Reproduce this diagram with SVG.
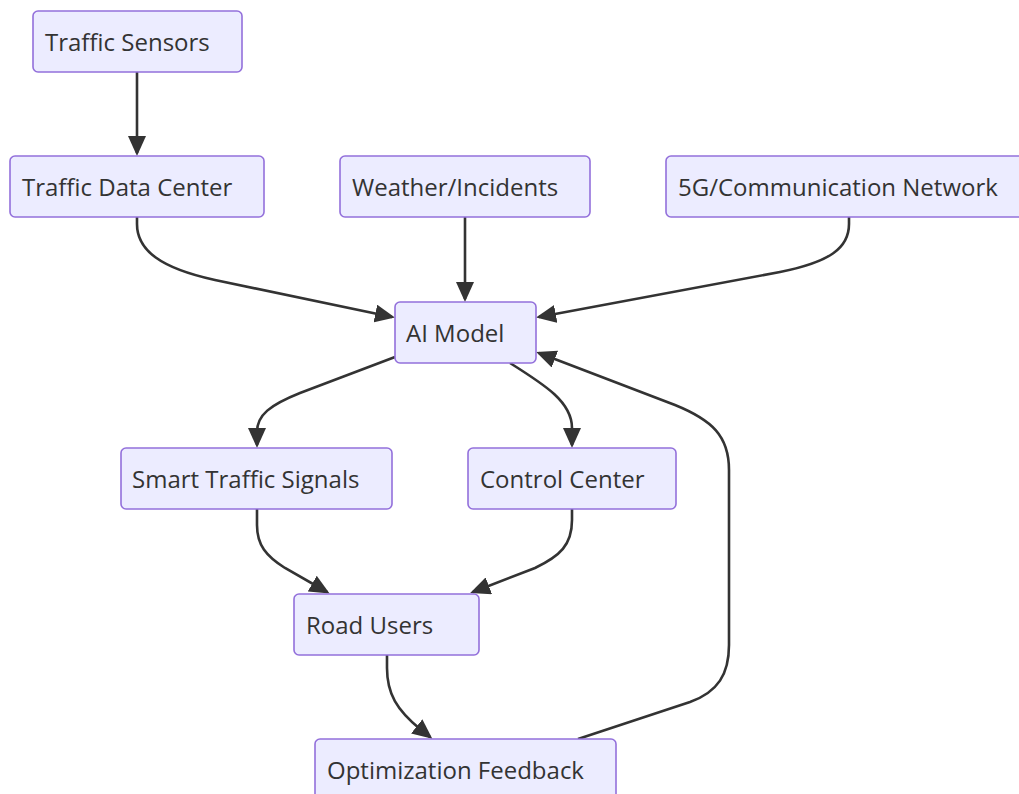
<svg xmlns="http://www.w3.org/2000/svg" width="1019" height="794" viewBox="0 0 1019 794">
  <style>
    .node rect { fill: #ECECFF; stroke: #9370DB; stroke-width: 1.6; }
    .node text { font-family: "Open Sans", "Noto Sans", "Liberation Sans", sans-serif; font-size: 24px; fill: #333333; }
    .edge { fill: none; stroke: #333333; stroke-width: 2.6; marker-end: url(#arrow); }
  </style>
  <defs>
    <marker id="arrow" viewBox="0 0 20 18" refX="17" refY="9" markerWidth="20" markerHeight="18" markerUnits="userSpaceOnUse" orient="auto">
      <path d="M0,0 L20,9 L0,18 z" fill="#333333"/>
    </marker>
  </defs>

  <g id="connectors">
    <!-- sensors to data center -->
    <path class="edge" d="M137,72 L137,153"/>
    <!-- data center to AI model -->
    <path class="edge" d="M137,217 L137,224 C137,250 160,268 215,280 L392,317"/>
    <!-- weather to AI model -->
    <path class="edge" d="M465,217 L465,299"/>
    <!-- 5G network to AI model -->
    <path class="edge" d="M849,217 L849,224 C849,248 830,262 780,272 L539,317"/>
    <!-- AI model to smart signals -->
    <path class="edge" d="M395,357 L300,393 C270,405 257,415 257,432 L257,445"/>
    <!-- AI model to control center -->
    <path class="edge" d="M510,363 C545,385 572,402 572,428 L572,445"/>
    <!-- smart signals to road users -->
    <path class="edge" d="M257,509 L257,525 C257,545 266,556 285,568 L327,592"/>
    <!-- control center to road users -->
    <path class="edge" d="M572,509 L572,520 C572,545 560,556 535,568 L473,592"/>
    <!-- road users to feedback -->
    <path class="edge" d="M387,655 L387,668 C387,694 397,710 420,729 L430,737"/>
    <!-- feedback back to AI model -->
    <path class="edge" d="M578,739 L690,702 C718,692 729,674 729,645 L729,470 C729,436 712,420 675,405 L539,353"/>
  </g>

  <g id="traffic-sensors" class="node">
    <rect x="33" y="11" width="209" height="61" rx="5"/>
    <text x="45" y="51">Traffic Sensors</text>
  </g>
  <g id="traffic-data-center" class="node">
    <rect x="10" y="156" width="254" height="61" rx="5"/>
    <text x="22" y="196">Traffic Data Center</text>
  </g>
  <g id="weather-incidents" class="node">
    <rect x="340" y="156" width="250" height="61" rx="5"/>
    <text x="352" y="196">Weather/Incidents</text>
  </g>
  <g id="network-5g" class="node">
    <rect x="666" y="156" width="370" height="61" rx="5"/>
    <text x="678" y="196">5G/Communication Network</text>
  </g>
  <g id="ai-model" class="node">
    <rect x="395" y="302" width="141" height="61" rx="5"/>
    <text x="406" y="342">AI Model</text>
  </g>
  <g id="smart-traffic-signals" class="node">
    <rect x="121" y="448" width="271" height="61" rx="5"/>
    <text x="132" y="488">Smart Traffic Signals</text>
  </g>
  <g id="control-center" class="node">
    <rect x="468" y="448" width="208" height="61" rx="5"/>
    <text x="480" y="488">Control Center</text>
  </g>
  <g id="road-users" class="node">
    <rect x="294" y="594" width="185" height="61" rx="5"/>
    <text x="306" y="634">Road Users</text>
  </g>
  <g id="optimization-feedback" class="node">
    <rect x="315" y="739" width="301" height="61" rx="5"/>
    <text x="327" y="779">Optimization Feedback</text>
  </g>
</svg>
